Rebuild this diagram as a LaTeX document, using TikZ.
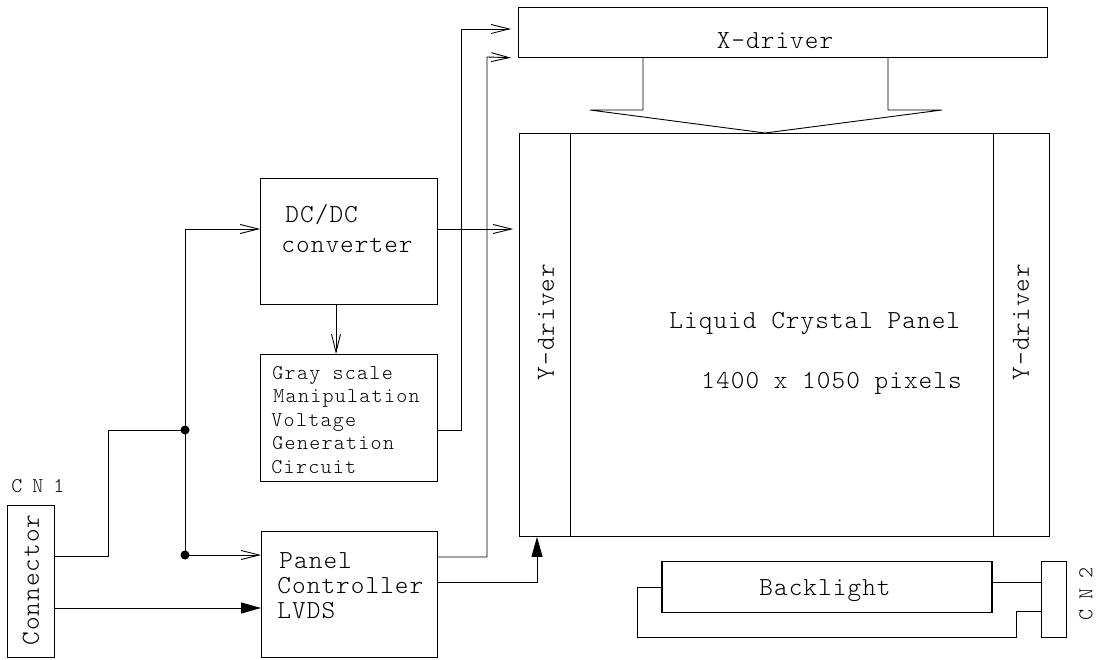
\documentclass[tikz,border=0pt]{standalone}
\usepackage{fontspec}
\usetikzlibrary{arrows.meta}
\newfontfamily\monoL{lmmonolt10-regular.otf}[LetterSpace=4]
\newfontfamily\monoS{lmmonolt10-regular.otf}[LetterSpace=6]
\newfontfamily\monoC{lmmonolt10-regular.otf}[LetterSpace=-5]
\begin{document}
\begin{tikzpicture}[x=1pt,y=-1pt, line width=0.9pt,
  box/.style={draw, rectangle, inner sep=0pt, anchor=north west},
  big/.style={font=\monoL\fontsize{26}{27}\selectfont, inner sep=0pt},
  sml/.style={font=\monoS\fontsize{21}{23}\selectfont, inner sep=0pt, anchor=base west},
  cnlab/.style={font=\monoC\fontsize{21}{21}\selectfont, inner sep=0pt},
  oarr/.style={-{Straight Barb[length=18pt,width=9pt,line width=0.9pt]}},
  farr/.style={-{Triangle[length=20pt,width=11pt]}},
  dotn/.style={circle, fill, inner sep=0pt, minimum size=9pt}]
\useasboundingbox (0,0) rectangle (1097,660);

% X-driver
\node[box, minimum width=529pt, minimum height=50pt] (xdrv) at (518,7) {};
\node[big, anchor=base] (xdrvT) at (775,49) {X-driver};
\draw (xdrv.south -| 643,0) -- (643,110) -- (590,110) -- (765,133) -- (942,110) -- (888,110) -- (xdrv.south -| 888,0);

% Panel
\node[box, minimum width=530pt, minimum height=403pt] (panel) at (519,133) {};
\node[box, minimum width=51pt, minimum height=403pt] (ydl) at (519,133) {};
\node[box, minimum width=56pt, minimum height=403pt] (ydr) at (993,133) {};
\node[big, rotate=90] (ydlT) at (546,322) {Y-driver};
\node[big, rotate=90] (ydrT) at (1021,322) {Y-driver};
\node[big, anchor=base west] (lcp1) at (669,328) {Liquid Crystal Panel};
\node[big, anchor=base west] (lcp2) at (701,388) {1400 x 1050 pixels};

% DC/DC
\node[box, minimum width=177pt, minimum height=126pt] (dcdc) at (260,178) {};
\node[big, anchor=base west] (dcT1) at (285,223) {DC/DC};
\node[big, anchor=base west] (dcT2) at (281,253) {converter};

% Gray scale
\node[box, minimum width=177pt, minimum height=127pt] (gray) at (260,354) {};
\node[sml] (g1) at (272,379) {Gray scale};
\node[sml] (g2) at (273,402.5) {Manipulation};
\node[sml] (g3) at (271,426) {Voltage};
\node[sml] (g4) at (272,449.5) {Generation};
\node[sml] (g5) at (271,473) {Circuit};

% Panel controller
\node[box, minimum width=176pt, minimum height=126pt] (pc) at (261,531) {};
\node[big, anchor=base west] (pcT1) at (279,568) {Panel};
\node[big, anchor=base west] (pcT2) at (277,593) {Controller};
\node[big, anchor=base west] (pcT3) at (277,618) {LVDS};

% Connector CN1
\node[box, minimum width=47pt, minimum height=152pt] (cn1) at (7,505) {};
\node[big, rotate=90] (cn1T) at (31,580) {Connector};
\node[cnlab, anchor=base west] (cn1L) at (11,492) {C N 1};

% Backlight and CN2
\node[box, minimum width=329pt, minimum height=51pt] (bl) at (662,561) {};
\draw[line width=2.5pt] (bl.north west) -- (bl.south west);
\draw[line width=2.5pt] (bl.north east) -- (bl.south east);
\node[big, anchor=base] (blT) at (825,595) {Backlight};
\node[box, minimum width=25pt, minimum height=76pt] (cn2) at (1041,561) {};
\node[cnlab, rotate=90] (cn2L) at (1086,594) {C N 2};
\draw (bl.west) -| (637,637) -| (1016,611) -- (cn2.west |- 0,611);
\draw (bl.east |- 0,582) -- (cn2.west |- 0,582);

% Junctions and connections
\coordinate (j1) at (185,430);
\coordinate (j2) at (185,555);
\draw (cn1.east |- 0,556) -| (108,430) -- (j1);
\draw[oarr] (j1) |- (dcdc.west |- 0,229);
\draw (j1) -- (j2);
\draw[oarr] (j2) -- (pc.west |- j2);
\node[dotn] (d1) at (j1) {};
\node[dotn] (d2) at (j2) {};
\draw[farr] (cn1.east |- 0,608) -- (pc.west |- 0,608);

\draw[oarr, shorten >=6pt] (dcdc.east |- 0,229) -- (panel.west |- 0,229);
\draw[oarr] (dcdc.south -| 336,0) -- (gray.north -| 336,0);
\draw[oarr, shorten >=7pt] (gray.east |- 0,430) -| (461,29) -- (xdrv.west |- 0,29);
\draw[oarr, shorten >=7pt] (pc.east |- 0,557) -| (487,57) -- (xdrv.south west);
\draw[farr] (pc.east |- 0,582) -| (ydl.south -| 537,0);
\end{tikzpicture}
\end{document}
